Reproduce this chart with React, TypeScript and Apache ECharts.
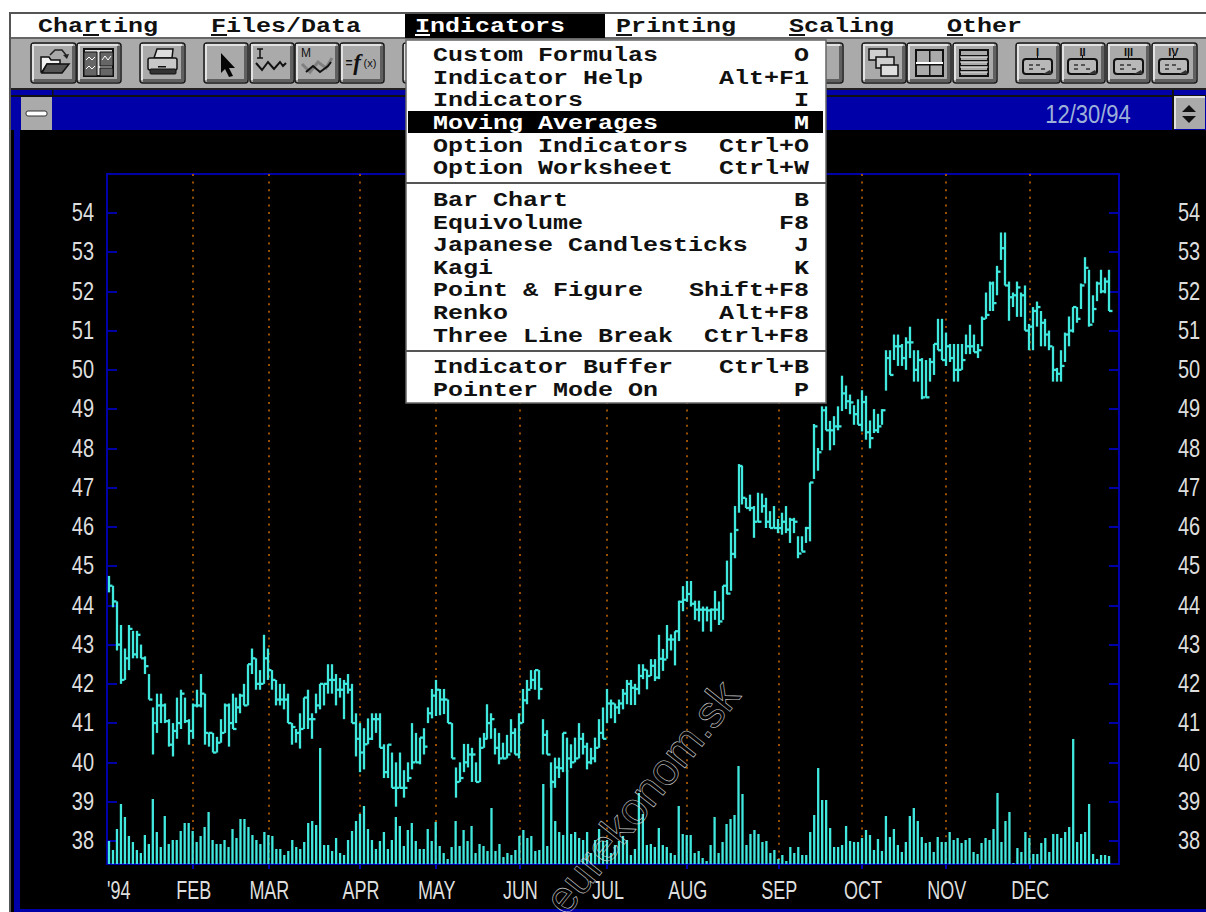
import React, { useEffect, useRef } from "react";
import * as echarts from "echarts";

const monthLabels = ["'94", "FEB", "MAR", "APR", "MAY", "JUN", "JUL", "AUG", "SEP", "OCT", "NOV", "DEC"];
const monthStarts = [0, 21, 40, 63, 82, 103, 125, 145, 168, 189, 210, 231];
const priceTicks = [38, 39, 40, 41, 42, 43, 44, 45, 46, 47, 48, 49, 50, 51, 52, 53, 54];

const highs = [
  44.75,44.5,44.1,43.5,42.9,43.5,43.35,43.35,43.0,42.7,
  42.25,41.4,41.75,41.75,41.5,41.1,41.0,41.65,41.85,41.65,
  41.1,41.5,41.85,42.25,41.75,40.75,40.75,40.65,41.1,41.5,
  41.5,41.75,41.65,41.75,42.0,42.5,42.9,42.65,42.35,43.25,
  42.9,42.35,42.1,42.0,42.0,41.75,41.0,40.85,41.25,41.65,
  41.85,41.25,41.75,42.0,42.0,42.5,42.5,42.25,42.15,42.1,
  42.25,42.0,41.25,41.0,40.87,41.12,41.25,41.25,41.25,40.46,
  40.46,40.25,40.0,40.25,39.8,40.0,41.0,40.75,40.63,40.87,
  41.4,41.87,42.1,41.87,41.87,41.6,41.0,39.87,40.0,40.47,
  40.47,40.37,40.0,40.63,40.75,41.48,41.25,40.87,40.75,40.5,
  40.7,41.1,40.87,41.25,41.87,42.1,42.35,42.35,42.35,41.1,
  40.82,40.0,40.12,40.12,40.75,40.63,40.46,40.63,41.0,40.75,
  40.5,40.37,40.63,41.1,41.4,41.87,41.6,41.5,41.6,41.87,
  42.1,42.1,42.0,42.5,42.5,42.36,42.63,42.63,43.25,42.89,
  43.5,43.26,43.34,44.12,44.49,44.62,44.62,44.12,44.12,43.97,
  43.97,43.92,44.37,44.1,44.5,45.14,45.85,46.53,47.6,47.55,
  46.74,46.82,46.53,46.87,46.85,46.74,46.4,46.53,46.2,46.36,
  46.53,46.23,46.23,45.76,45.76,46.0,47.13,48.62,48.01,49.07,
  49.07,48.7,48.82,49.07,49.85,49.6,49.37,49.1,49.25,49.48,
  49.34,48.71,49.0,48.88,49.0,50.5,50.5,50.9,50.9,50.66,
  50.83,51.1,50.5,50.5,50.3,50.25,50.3,50.66,51.3,51.3,
  50.95,50.66,50.66,50.66,50.66,50.9,51.15,50.9,50.66,51.36,
  51.97,52.25,52.25,52.65,53.5,53.5,52.25,51.97,52.25,51.97,
  52.15,51.17,51.6,51.74,51.5,51.3,51.0,50.6,50.05,50.5,
  50.95,51.36,51.6,51.6,52.2,52.87,52.55,51.9,52.25,52.55,
  52.35,52.55,
];

const lows = [
  44.33,43.95,42.85,42.0,42.1,42.35,42.65,42.65,42.65,42.25,
  41.6,40.2,40.75,41.0,41.0,40.4,40.15,40.6,40.85,41.0,
  40.45,40.6,41.4,41.4,40.45,40.4,40.25,40.25,40.5,40.75,
  40.4,40.85,41.0,41.25,41.45,41.45,42.25,41.85,41.85,42.0,
  42.1,41.85,41.45,41.45,41.35,41.0,40.45,40.5,40.35,40.85,
  40.85,40.6,41.25,41.35,41.45,41.75,41.75,41.45,41.65,41.1,
  41.75,41.0,40.15,39.75,39.82,40.46,40.57,40.75,40.37,39.6,
  39.6,39.35,38.87,39.35,39.1,39.5,39.82,40.0,39.95,40.2,
  41.0,41.12,41.18,41.2,41.23,41.0,40.1,39.1,39.5,39.75,
  39.87,39.5,39.5,39.5,40.37,40.6,40.6,40.2,39.95,40.1,
  40.1,40.25,40.2,40.1,41.0,41.48,41.87,41.85,41.6,40.2,
  40.2,39.35,39.35,39.6,39.75,39.75,39.85,40.0,40.1,40.2,
  39.82,39.95,40.0,40.37,40.6,41.0,41.12,41.0,41.23,41.35,
  41.48,41.46,41.46,41.73,42.12,41.86,42.2,42.07,42.12,42.33,
  42.64,42.85,42.47,43.09,43.85,44.09,43.97,43.63,43.59,43.33,
  43.59,43.33,43.63,43.5,43.63,44.28,44.37,45.2,46.36,46.57,
  46.48,46.4,45.72,46.13,46.36,45.97,45.97,45.97,45.84,45.8,
  45.84,45.59,45.84,45.2,45.37,45.59,45.63,47.22,47.43,47.95,
  48.46,47.95,48.08,48.46,48.95,49.0,48.87,48.6,48.6,48.43,
  48.22,48.0,48.39,48.39,48.6,49.47,49.87,50.25,50.1,50.1,
  50.0,50.3,49.7,49.7,49.25,49.3,49.7,49.87,50.5,50.25,
  50.1,50.2,49.7,49.7,50.0,50.4,50.4,50.45,50.3,50.6,
  51.3,51.5,51.5,51.9,52.8,52.15,51.25,51.6,51.35,51.35,
  51.0,50.5,50.5,51.1,50.6,50.6,50.5,49.7,49.7,49.7,
  50.2,50.6,50.95,51.2,51.55,52.2,51.1,51.2,51.75,51.95,
  51.95,51.5,
];

const closes = [
  44.5,44.1,43.0,42.1,42.65,43.4,42.75,43.25,42.65,42.45,
  41.6,41.0,41.45,41.45,41.05,40.45,40.8,41.0,41.75,41.05,
  40.8,41.45,41.45,41.75,40.75,40.75,40.25,40.5,40.75,41.45,
  41.0,40.85,41.4,41.7,41.45,42.5,42.65,42.0,42.0,42.65,
  42.35,42.1,41.6,41.6,41.6,41.0,40.9,40.75,40.85,41.65,
  41.1,41.1,41.45,42.0,42.0,42.1,42.1,41.85,41.85,42.0,
  41.85,41.0,40.6,40.25,40.46,40.6,41.1,41.1,40.37,39.75,
  40.45,39.35,39.35,39.35,39.35,39.6,40.0,40.0,40.63,40.4,
  41.25,41.7,41.85,41.6,41.6,41.0,40.1,39.5,39.6,40.0,
  40.2,40.2,39.5,40.37,40.6,41.0,41.1,40.37,40.1,40.1,
  40.2,40.75,40.2,41.0,41.58,41.85,42.1,42.35,41.87,40.7,
  40.2,39.5,39.87,39.85,40.75,40.1,40.0,40.1,40.6,40.4,
  40.0,40.1,40.37,40.75,40.6,41.5,41.5,41.4,41.5,41.75,
  42.0,41.9,41.87,42.2,42.36,42.2,42.46,42.16,42.64,42.62,
  43.13,43.13,43.34,44.09,44.14,44.29,44.04,43.89,43.89,43.89,
  43.87,43.89,43.89,43.59,44.5,44.3,45.31,45.92,47.55,46.74,
  46.48,46.48,46.13,46.13,46.53,46.13,45.97,45.97,45.97,46.13,
  45.93,46.18,46.13,45.32,45.37,45.97,47.13,48.56,47.9,48.97,
  48.46,48.46,48.56,48.56,49.4,49.2,49.17,48.87,48.6,49.18,
  48.41,48.26,48.46,48.56,48.97,50.3,49.87,50.6,50.6,50.3,
  50.7,50.7,50.0,50.25,49.3,49.3,50.2,50.66,50.5,50.25,
  50.6,50.3,50.0,50.0,50.25,50.6,50.6,50.45,50.5,51.3,
  51.4,52.2,51.7,52.5,53.1,52.15,51.85,51.9,52.1,51.9,
  51.0,51.1,51.5,51.6,51.2,50.9,50.6,50.0,49.9,50.1,
  50.9,51.0,51.6,51.3,52.15,52.6,51.15,51.55,52.2,52.0,
  52.25,51.5,
];

const volumes = [
  23,14,35,60,47,28,22,14,11,29,
  20,65,32,17,48,20,24,24,33,41,
  41,33,22,28,37,52,24,20,20,24,
  17,35,26,45,45,37,29,24,20,32,
  29,28,15,15,9,13,24,17,15,22,
  41,43,39,116,19,19,13,26,11,9,
  24,33,43,50,58,35,24,15,23,32,
  15,24,47,38,18,34,41,23,15,15,
  35,23,42,18,11,5,17,43,18,34,
  23,38,11,20,18,13,56,13,20,7,
  11,9,14,28,34,26,28,13,14,80,
  18,84,43,32,29,94,30,32,26,24,
  32,11,24,35,23,24,11,19,23,28,
  24,9,15,71,50,19,20,17,36,19,
  17,11,9,58,30,29,29,11,13,6,
  3,19,47,11,22,40,45,49,98,70,
  19,30,34,30,22,23,11,14,5,9,
  3,17,11,17,9,9,32,49,96,64,
  64,36,17,17,19,38,23,22,22,26,
  34,29,14,25,13,48,27,35,19,12,
  22,48,56,43,27,21,22,12,27,22,
  22,32,24,26,21,24,26,12,10,21,
  26,24,35,71,22,43,52,1,16,12,
  32,26,10,10,21,26,12,30,30,26,
  32,37,125,22,30,32,60,10,5,9,
  9,8,
];

const categories: string[] = highs.map(() => "");
monthStarts.forEach((start, k) => { categories[start] = monthLabels[k]; });
categories.push("", "");

const hlcData = highs.map((h, i) => [i, h, lows[i], closes[i]]);
const PRICE_MIN = 37.41;
const PRICE_MAX = 54.99;

const CYAN = "#40e8de";
const BLUE = "#0000a8";
const GREY = "#aaaaaa";
const INK = "#111111";
const MONO = "'Liberation Mono', 'DejaVu Sans Mono', monospace";
const SANS = "'Liberation Sans', sans-serif";

type El = Record<string, unknown>;

function rect(x: number, y: number, w: number, h: number, fill: string, stroke?: string, lw = 1, r = 0): El {
  return { type: "rect", shape: { x, y, width: w, height: h, r }, style: { fill, stroke: stroke || "none", lineWidth: lw } };
}
function poly(points: number[][], stroke: string, lw = 1.5): El {
  return { type: "polyline", shape: { points }, style: { stroke, lineWidth: lw, fill: "none" } };
}
function gon(points: number[][], fill: string, stroke = "none", lw = 1): El {
  return { type: "polygon", shape: { points }, style: { fill, stroke, lineWidth: lw } };
}
function label(text: string, x: number, y: number, fill: string, align = "left", scaleX = 1.25, size = 20): El {
  return {
    type: "text", x, y, scaleX,
    style: {
      text, fill, fontFamily: MONO, fontWeight: "bold", fontSize: size,
      textAlign: align, align, verticalAlign: "middle", textVerticalAlign: "middle",
    },
  };
}
function small(text: string, x: number, y: number, size: number, family = SANS, extra: Record<string, unknown> = {}): El {
  return { type: "text", x, y, style: { text, fill: "#111", fontFamily: family, fontSize: size, textAlign: "center", align: "center", verticalAlign: "middle", textVerticalAlign: "middle", ...extra } };
}
function button(x0: number, x1: number): El[] {
  const y0 = 43, y1 = 83;
  return [
    rect(x0, y0, x1 - x0, y1 - y0, GREY, "#1a1a1a", 1.5, 3),
    poly([[x0 + 2, y1 - 3], [x0 + 2, y0 + 2], [x1 - 3, y0 + 2]], "#e2e2e2", 2),
    poly([[x0 + 3, y1 - 2.5], [x1 - 2.5, y1 - 2.5], [x1 - 2.5, y0 + 3]], "#606060", 3),
  ];
}

function monitor(x: number, roman: string): El[] {
  return [
    rect(x + 7, 59, 29, 15, "#b8b8b8", "#111", 2, 3),
    rect(x + 13, 64, 4, 2, "#555"), rect(x + 20, 64, 4, 2, "#555"), rect(x + 13, 68, 4, 2, "#555"), rect(x + 25, 68, 4, 2, "#555"),
    gon([[x + 27, 74], [x + 36, 74], [x + 34, 70]], "#333"),
    poly([[x + 21.5, 55], [x + 21.5, 59]], "#111", 1),
    small(roman, x + 21.5, 52, 11, SANS, { fontWeight: "bold" }),
  ];
}

function chrome(): El[] {
  const els: El[] = [];
  // window frame and bars
  els.push(rect(0, 0, 1206, 130, "#ffffff"));
  els.push(rect(0, 130, 10, 782, "#ffffff"));
  els.push(rect(9, 12, 1197, 2, "#555555"));
  els.push(rect(9, 12, 2, 900, "#555555"));
  els.push(rect(11, 14, 1195, 24, "#ffffff"));
  els.push(rect(11, 38, 1195, 51, GREY));
  els.push(rect(11, 37, 1195, 2, "#666666"));
  els.push(rect(11, 88, 1195, 2, "#222222"));
  els.push(rect(11, 90, 1195, 6, BLUE));
  els.push(rect(11, 95, 1195, 2, "#111111"));
  els.push(rect(11, 97, 1195, 33, BLUE));
  els.push(rect(11, 130, 3, 782, "#000000"));
  els.push(rect(14, 130, 6, 782, BLUE));
  els.push(rect(14, 909, 1192, 3, BLUE));
  els.push(rect(52, 90, 1.5, 7, "#111111"));
  els.push(rect(1172, 90, 2, 40, "#111111"));
  // system box
  els.push(rect(21, 97, 31, 33, GREY));
  els.push(rect(26, 111, 21, 5, "#ffffff", "#333333", 1, 2));
  // scroll box
  els.push(rect(1175, 97, 30, 32, GREY));
  els.push(poly([[1175, 129], [1175, 97], [1205, 97]], "#e2e2e2", 2));
  els.push(gon([[1189, 105], [1196, 112], [1182, 112]], "#111111"));
  els.push(gon([[1182, 116], [1196, 116], [1189, 123]], "#111111"));
  els.push({ type: "text", x: 1088, y: 115, scaleX: 0.88, style: { text: "12/30/94", fill: "#9db0d8", fontFamily: SANS, fontSize: 25, textAlign: "center", align: "center", verticalAlign: "middle", textVerticalAlign: "middle" } });

  // toolbar buttons
  const btns = [[31, 76], [77, 121], [140, 185], [204, 248], [250, 294], [295, 339], [340, 384], [403, 450], [800, 843],
    [862, 906], [907, 951], [953, 997], [1016, 1060], [1061, 1105], [1107, 1150], [1152, 1197]];
  btns.forEach(([a, b]) => els.push(...button(a, b)));

  // open
  els.push(gon([[41, 72], [41, 57], [49, 57], [51, 60], [60, 60], [60, 64], [47, 64], [42, 72]], "#f2f2f2", "#111", 1.5));
  els.push(gon([[42, 73], [47, 64], [69, 64], [62, 73]], "#555555", "#111", 1.5));
  els.push(poly([[50, 55], [55, 50], [62, 50], [66, 55]], "#222", 1.5));
  els.push(gon([[63, 55], [69, 54], [67, 59]], "#222"));
  // worksheet
  els.push(rect(84, 49, 29, 27, "#dcdcdc", "#111", 2));
  els.push(rect(84, 52, 13, 24, "#666", "#111", 1));
  els.push(rect(100, 52, 13, 14, "#666", "#111", 1));
  els.push(rect(100, 68, 13, 8, "#666", "#111", 1));
  els.push(poly([[86, 60], [89, 57], [92, 60], [95, 57]], "#fff", 1));
  els.push(poly([[86, 69], [89, 66], [92, 69], [95, 66]], "#fff", 1));
  els.push(poly([[102, 60], [105, 56], [108, 60], [111, 56]], "#fff", 1));
  // printer
  els.push(gon([[154, 58], [157, 49], [173, 49], [172, 58]], "#dddddd", "#111", 1.5));
  els.push(rect(148, 58, 29, 12, "#c8c8c8", "#111", 1.5, 2));
  els.push(rect(150, 69, 26, 5, "#333", "#111", 1, 1));
  els.push(rect(158, 66, 8, 1.5, "#111"));
  // arrow
  els.push(gon([[221, 53], [235, 68], [229, 68], [233, 76], [229, 77], [225, 69], [221, 73]], "#050505"));
  // indicator
  els.push(poly([[257, 49], [263, 49]], "#111", 1.5));
  els.push(poly([[260, 49], [260, 58]], "#111", 1.5));
  els.push(poly([[257, 58], [263, 58]], "#111", 1.5));
  els.push(poly([[256, 63], [262, 70], [268, 62], [274, 69], [280, 62], [283, 66], [286, 63]], "#111", 2));
  // moving average
  els.push(small("M", 306, 53, 12));
  els.push(poly([[302, 64], [310, 72], [318, 62], [326, 68], [332, 58]], "#808080", 3));
  els.push(poly([[306, 72], [313, 66], [320, 72], [328, 66], [331, 62]], "#111", 2));
  // formula
  els.push(small("=", 349, 63, 12, SANS, { fontWeight: "bold" }));
  els.push(small("f", 357, 62, 23, "'Liberation Serif', serif", { fontStyle: "italic", fontWeight: "bold" }));
  els.push(small("(x)", 370, 63, 11));
  // tile icons
  els.push(rect(869, 49, 18, 11, "#cfcfcf", "#111", 1.5));
  els.push(rect(876, 57, 18, 11, "#cfcfcf", "#111", 1.5));
  els.push(rect(881, 65, 17, 11, "#dedede", "#111", 1.5));
  els.push(rect(916, 50, 27, 26, GREY, "#111", 2));
  els.push(rect(929, 50, 1.5, 26, "#111"));
  els.push(rect(916, 62, 27, 2, "#fff"));
  els.push(rect(916, 64, 27, 1.5, "#111"));
  els.push(rect(960, 50, 28, 26, GREY, "#111", 2));
  [55, 60, 65, 70].forEach((y) => {
    els.push(rect(960, y, 28, 1.5, "#111"));
    els.push(rect(960, y + 1.5, 28, 1, "#e6e6e6"));
  });
  // monitors
  els.push(...monitor(1016, "I"), ...monitor(1061, "II"), ...monitor(1107, "III"), ...monitor(1152, "IV"));

  // menu bar
  const bar: [string, number, number][] = [["Charting", 38, 83], ["Files/Data", 211, 211], ["Printing", 616, 616], ["Scaling", 789, 789], ["Other", 947, 947]];
  bar.forEach(([t, x, ux]) => {
    els.push(label(t, x, 27, INK));
    els.push(rect(ux, 34, 16, 2, INK));
  });
  els.push(rect(405, 14, 200, 24, "#000000"));
  els.push(label("Indicators", 415, 27, "#ffffff"));
  els.push(rect(415, 34, 15, 2, "#ffffff"));

  // pull-down
  els.push(rect(406, 40, 420, 363, "#ffffff", "#666666", 1.5));
  els.push(rect(408, 111, 415, 22, "#000000"));
  els.push(rect(406, 182, 420, 2, "#555555"));
  els.push(rect(406, 350, 420, 2, "#555555"));
  const items: [string, string, number][] = [
    ["Custom Formulas", "O", 56], ["Indicator Help", "Alt+F1", 79], ["Indicators", "I", 101],
    ["Moving Averages", "M", 124], ["Option Indicators", "Ctrl+O", 147], ["Option Worksheet", "Ctrl+W", 169],
    ["Bar Chart", "B", 201], ["Equivolume", "F8", 224], ["Japanese Candlesticks", "J", 246],
    ["Kagi", "K", 269], ["Point & Figure", "Shift+F8", 291], ["Renko", "Alt+F8", 314],
    ["Three Line Break", "Ctrl+F8", 337], ["Indicator Buffer", "Ctrl+B", 368], ["Pointer Mode On", "P", 391],
  ];
  items.forEach(([t, k, y]) => {
    const c = t === "Moving Averages" ? "#ffffff" : INK;
    els.push(label(t, 433, y, c));
    els.push(label(k, 809, y, c, "right"));
  });

  // watermark
  els.push({
    type: "text", x: 642, y: 797, rotation: 0.9,
    style: { text: "eurekonom.sk", fill: "rgba(0,0,0,0)", stroke: "#d0d0d0", lineWidth: 0.6, fontFamily: SANS, fontSize: 45, textAlign: "center", align: "center", verticalAlign: "middle", textVerticalAlign: "middle" },
  });
  return els.map((e) => ({ ...e, z: 100 }));
}

function renderHlc(_: unknown, api: any) {
  const i = api.value(0);
  const top = api.coord([i, api.value(1)]);
  const bottom = api.coord([i, api.value(2)]);
  const close = api.coord([i, api.value(3)]);
  const x = Math.round(top[0]);
  const style = { stroke: CYAN, lineWidth: 2.3, fill: "none" };
  return {
    type: "group",
    children: [
      { type: "line", shape: { x1: x, y1: top[1], x2: x, y2: bottom[1] }, style },
      { type: "line", shape: { x1: x, y1: close[1], x2: x + 3.5, y2: close[1] }, style },
    ],
  };
}

const axisTextStyle = { fill: "#dedede", fontFamily: SANS, fontSize: 25, verticalAlign: "middle", textVerticalAlign: "middle" };

// Price labels: one row per tick, placed by the price axis on both sides of the plot.
function renderPriceLabel(params: any, api: any) {
  const v = api.value(1);
  const p = api.coord([0, v]);
  const right = params.coordSys.x + params.coordSys.width;
  const left = params.coordSys.x;
  return {
    type: "group",
    children: [
      { type: "text", x: left - 13, y: p[1], scaleX: 0.8, style: { ...axisTextStyle, text: String(v), textAlign: "right", align: "right" } },
      { type: "text", x: right + 59, y: p[1], scaleX: 0.8, style: { ...axisTextStyle, text: String(v), textAlign: "left", align: "left" } },
    ],
  };
}

// Month labels: placed by the category axis below the plot.
function renderMonthLabel(params: any, api: any) {
  const i = api.value(0);
  const p = api.coord([i, PRICE_MIN]);
  const first = i === 0;
  return {
    type: "text", x: first ? p[0] - 2 : p[0] + 1, y: p[1] + 26, scaleX: 0.72,
    style: { ...axisTextStyle, text: monthLabels[params.dataIndex], textAlign: first ? "left" : "center", align: first ? "left" : "center" },
  };
}

const isMonth = (i: number) => monthStarts.includes(i) && i > 0;

export default function App() {
  const ref = useRef<HTMLDivElement>(null);
  useEffect(() => {
    document.body.style.margin = "0";
    document.body.style.background = "#000";
    const chart = echarts.init(ref.current as HTMLDivElement, undefined, { renderer: "svg" });
    const yCommon = {
      type: "value", min: PRICE_MIN, max: PRICE_MAX, splitLine: { show: false },
      axisLine: { show: false }, axisLabel: { show: false },
    };
    chart.setOption({
      animation: false,
      backgroundColor: "#000000",
      grid: { left: 107, right: 87, top: 174, bottom: 48, show: true, borderColor: BLUE, borderWidth: 2, backgroundColor: "#000000", outerBoundsMode: "none" },
      xAxis: {
        type: "category", data: categories, boundaryGap: true,
        axisLine: { show: true, lineStyle: { color: BLUE, width: 2 } },
        axisTick: { show: true, alignWithLabel: true, length: 5, interval: (i: number) => isMonth(i), lineStyle: { color: BLUE, width: 2 } },
        axisLabel: { show: false },
        splitLine: { show: true, alignWithLabel: true, interval: (i: number) => isMonth(i), lineStyle: { color: "#9a5000", width: 2, type: [2, 5.6] } },
      },
      yAxis: [
        { ...yCommon, position: "left", axisTick: { show: true, inside: true, length: 10, customValues: priceTicks, lineStyle: { color: BLUE, width: 2 } } },
        { ...yCommon, position: "right", axisTick: { show: true, inside: true, length: 10, customValues: priceTicks, lineStyle: { color: BLUE, width: 2 } } },
        { type: "value", min: 0, max: 690, show: false, splitLine: { show: false } },
      ],
      series: [
        { type: "bar", name: "Volume", yAxisIndex: 2, barWidth: 2.3, data: volumes, itemStyle: { color: CYAN }, silent: true },
        { type: "custom", name: "Price", yAxisIndex: 0, data: hlcData, renderItem: renderHlc, silent: true, encode: { x: 0, y: [1, 2, 3] } },
        { type: "custom", name: "Price labels", yAxisIndex: 0, data: priceTicks.map((v) => [0, v]), renderItem: renderPriceLabel, silent: true, clip: false, encode: { x: 0, y: 1 } },
        { type: "custom", name: "Month labels", yAxisIndex: 0, data: monthStarts.map((s) => [s, PRICE_MIN]), renderItem: renderMonthLabel, silent: true, clip: false, encode: { x: 0, y: 1 } },
      ],
      graphic: { z: 100, elements: chrome() },
    });
    return () => chart.dispose();
  }, []);
  return <div ref={ref} style={{ width: 1206, height: 912 }} />;
}
